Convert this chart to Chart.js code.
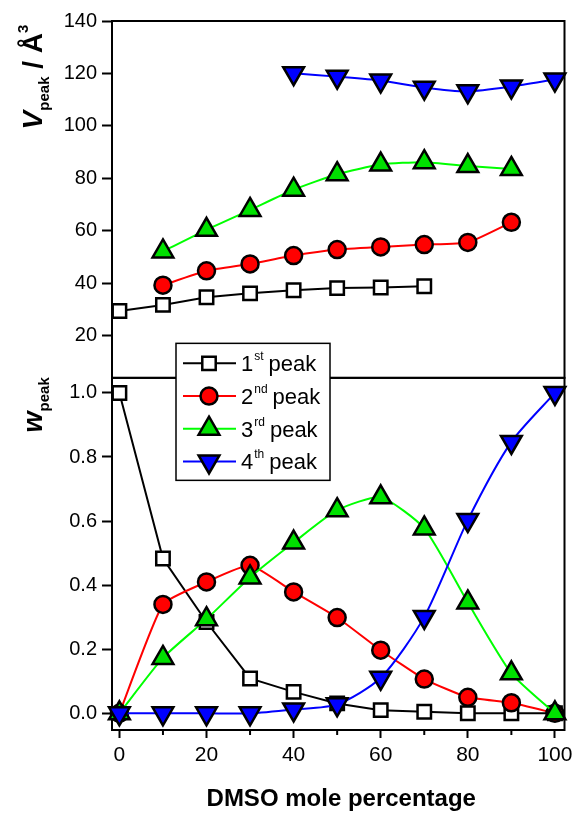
<!DOCTYPE html>
<html>
<head>
<meta charset="utf-8">
<script src="https://cdn.jsdelivr.net/npm/chart.js@4.4.0/dist/chart.umd.min.js"></script>
<style>
html, body { margin: 0; padding: 0; background: #fff; }
#wrap { width: 579px; height: 814px; }
</style>
</head>
<body>
<div id="wrap"><canvas id="peakChart" width="579" height="814"></canvas></div>
<script>
// DMSO mole percentage (x) for each series
const xAll = [0, 10, 20, 30, 40, 50, 60, 70, 80, 90, 100];
const xVol1 = [0, 10, 20, 30, 40, 50, 60, 70];
const xVol2 = [10, 20, 30, 40, 50, 60, 70, 80, 90];
const xVol3 = [10, 20, 30, 40, 50, 60, 70, 80, 90];
const xVol4 = [40, 50, 60, 70, 80, 90, 100];

// top panel: V_peak / A^3
const vol1 = [29.5, 31.8, 34.7, 36.2, 37.4, 38.2, 38.4, 38.9];
const vol2 = [39.3, 44.8, 47.4, 50.6, 52.9, 53.9, 54.8, 55.6, 63.3];
const vol3 = [52.2, 60.4, 68.0, 75.7, 81.6, 85.3, 86.2, 84.7, 83.6];
const vol4 = [120.1, 118.8, 117.3, 114.6, 113.2, 115.0, 117.7];

// bottom panel: w_peak
const w1 = [1.0, 0.483, 0.285, 0.109, 0.067, 0.031, 0.010, 0.005, 0, 0, 0];
const w2 = [0, 0.340, 0.410, 0.462, 0.379, 0.299, 0.197, 0.107, 0.050, 0.033, 0];
const w3 = [0, 0.173, 0.294, 0.424, 0.533, 0.634, 0.674, 0.577, 0.346, 0.125, 0];
const w4 = [0, 0, 0, 0, 0.012, 0.028, 0.111, 0.301, 0.603, 0.847, 1.0];

// ticks
const xTicks = [0, 20, 40, 60, 80, 100];
const xMinorTicks = [10, 30, 50, 70, 90];
const vTicks = [20, 40, 60, 80, 100, 120, 140];
const wTicks = [0, 0.2, 0.4, 0.6, 0.8, 1.0];

// legend text
const peakNums = ['1', '2', '3', '4'];
const peakSups = ['st', 'nd', 'rd', 'th'];

const FONT = "'Liberation Sans', Arial, sans-serif";

const peakStyles = [
    { line: '#000000', fill: '#ffffff', shape: 'rect', radius: 9.5, rotation: 0, tension: 0, order: 4 },
    { line: '#ff0000', fill: '#ff0000', shape: 'circle', radius: 8.5, rotation: 0, tension: 0.15, order: 3 },
    { line: '#00ff00', fill: '#00e000', shape: 'triangle', radius: 12, rotation: 0, tension: 0.2, order: 2 },
    { line: '#0000ff', fill: '#0000ff', shape: 'triangle', radius: 12, rotation: 180, tension: 0.25, order: 1 }
];

function makeSet(xs, ys, i, axisId) {
    const s = peakStyles[i];
    return {
        data: xs.map((x, k) => ({ x: x, y: ys[k] })),
        yAxisID: axisId,
        showLine: true,
        borderColor: s.line,
        borderWidth: 2,
        backgroundColor: s.fill,
        pointStyle: s.shape,
        pointRadius: s.radius,
        pointRotation: s.rotation,
        pointBackgroundColor: s.fill,
        pointBorderColor: '#000000',
        pointBorderWidth: 2.5,
        tension: s.tension,
        clip: false,
        order: s.order
    };
}

const datasets = [
    makeSet(xVol1, vol1, 0, 'yTop'),
    makeSet(xVol2, vol2, 1, 'yTop'),
    makeSet(xVol3, vol3, 2, 'yTop'),
    makeSet(xVol4, vol4, 3, 'yTop'),
    makeSet(xAll, w1, 0, 'yBot'),
    makeSet(xAll, w2, 1, 'yBot'),
    makeSet(xAll, w3, 2, 'yBot'),
    makeSet(xAll, w4, 3, 'yBot')
];

// draws a run of text pieces (with sub/superscripts) rotated for the y titles
function drawRun(ctx, parts, cx, cy) {
    ctx.save();
    ctx.translate(cx, cy);
    ctx.rotate(-Math.PI / 2);
    ctx.fillStyle = '#000';
    ctx.textBaseline = 'alphabetic';
    ctx.textAlign = 'left';
    let total = 0;
    parts.forEach(p => { ctx.font = p.font; total += ctx.measureText(p.text).width; });
    let x = -total / 2;
    parts.forEach(p => {
        ctx.font = p.font;
        ctx.fillText(p.text, x, p.dy);
        x += ctx.measureText(p.text).width;
    });
    ctx.restore();
}

const panelPlugin = {
    id: 'panelPlugin',
    beforeDatasetsDraw(chart) {
        const ctx = chart.ctx;
        const xs = chart.scales.x;
        const yt = chart.scales.yTop;
        const yb = chart.scales.yBot;
        ctx.save();
        ctx.strokeStyle = '#000';
        ctx.lineWidth = 2;
        ctx.strokeRect(xs.left, yt.top, xs.right - xs.left, yt.bottom - yt.top);
        ctx.strokeRect(xs.left, yb.top, xs.right - xs.left, yb.bottom - yb.top);
        // minor ticks on x
        xMinorTicks.forEach(v => {
            const px = xs.getPixelForValue(v);
            ctx.beginPath();
            ctx.moveTo(px, xs.top);
            ctx.lineTo(px, xs.top + 5);
            ctx.stroke();
        });
        ctx.restore();
    },
    afterDatasetsDraw(chart) {
        const ctx = chart.ctx;
        const area = chart.chartArea;
        const yt = chart.scales.yTop;

        // legend box
        const lx = area.left + 64;
        const ly = yt.bottom - 34.5;
        const lw = 154;
        const lh = 137;
        ctx.save();
        ctx.fillStyle = '#fff';
        ctx.fillRect(lx, ly, lw, lh);
        ctx.strokeStyle = '#000';
        ctx.lineWidth = 1.5;
        ctx.strokeRect(lx, ly, lw, lh);

        peakStyles.forEach((s, i) => {
            const ry = ly + 20 + i * 32.7;
            ctx.strokeStyle = s.line;
            ctx.lineWidth = 2;
            ctx.beginPath();
            ctx.moveTo(lx + 7, ry);
            ctx.lineTo(lx + 60, ry);
            ctx.stroke();

            ctx.fillStyle = s.fill;
            ctx.strokeStyle = '#000';
            ctx.lineWidth = 2.5;
            Chart.helpers.drawPoint(ctx, {
                pointStyle: s.shape,
                radius: s.radius,
                rotation: s.rotation,
                borderWidth: 2.5
            }, lx + 33, ry);

            ctx.fillStyle = '#000';
            ctx.textBaseline = 'alphabetic';
            ctx.textAlign = 'left';
            let tx = lx + 65;
            ctx.font = '22px ' + FONT;
            ctx.fillText(peakNums[i], tx, ry + 8);
            tx += ctx.measureText(peakNums[i]).width + 1;
            ctx.font = '12px ' + FONT;
            ctx.fillText(peakSups[i], tx, ry - 3);
            tx += ctx.measureText(peakSups[i]).width + 5;
            ctx.font = '22px ' + FONT;
            ctx.fillText('peak', tx, ry + 8);
        });
        ctx.restore();
    },
    afterDraw(chart) {
        const ctx = chart.ctx;
        const area = chart.chartArea;
        const yt = chart.scales.yTop;
        const yb = chart.scales.yBot;

        drawRun(ctx, [
            { text: 'V', font: 'italic bold 28px ' + FONT, dy: 0 },
            { text: 'peak', font: 'bold 15px ' + FONT, dy: 7 },
            { text: ' / Å', font: 'bold 28px ' + FONT, dy: 0 },
            { text: '3', font: 'bold 15px ' + FONT, dy: -14 }
        ], 41.7, yt.top + 56);

        drawRun(ctx, [
            { text: 'w', font: 'italic bold 27px ' + FONT, dy: 0 },
            { text: 'peak', font: 'bold 15px ' + FONT, dy: 7 }
        ], 41.7, yb.top + 27);

        ctx.save();
        ctx.fillStyle = '#000';
        ctx.font = 'bold 24px ' + FONT;
        ctx.textAlign = 'center';
        ctx.textBaseline = 'alphabetic';
        ctx.fillText('DMSO mole percentage', (area.left + area.right) / 2 + 3, 806);
        ctx.restore();
    }
};

const yFit = s => { s.width = 112; };

new Chart(document.getElementById('peakChart'), {
    type: 'scatter',
    data: { datasets: datasets },
    options: {
        responsive: false,
        animation: false,
        devicePixelRatio: 1,
        layout: { padding: { left: 0, right: 13, top: 21, bottom: 0 } },
        plugins: {
            legend: { display: false },
            tooltip: { enabled: false }
        },
        scales: {
            x: {
                type: 'linear',
                position: 'bottom',
                min: -1.7,
                max: 102.2,
                afterBuildTicks: axis => { axis.ticks = xTicks.map(v => ({ value: v })); },
                afterFit: s => { s.height = 84; },
                ticks: { color: '#000', font: { size: 21, family: FONT }, padding: 5 },
                grid: { drawOnChartArea: false, drawTicks: true, tickLength: 8, tickWidth: 2, tickColor: '#000' },
                border: { display: true, width: 2, color: '#000' }
            },
            yBot: {
                type: 'linear',
                position: 'left',
                stack: 'panels',
                stackWeight: 352.3,
                min: -0.052,
                max: 1.047,
                afterBuildTicks: axis => { axis.ticks = wTicks.map(v => ({ value: v })); },
                afterFit: yFit,
                ticks: { color: '#000', font: { size: 20, family: FONT }, padding: 5,
                    callback: v => v.toFixed(1) },
                grid: { drawOnChartArea: false, drawTicks: true, tickLength: 10, tickWidth: 2, tickColor: '#000' },
                border: { display: true, width: 2, color: '#000' }
            },
            yTop: {
                type: 'linear',
                position: 'left',
                stack: 'panels',
                stackWeight: 357,
                min: 4,
                max: 140,
                afterBuildTicks: axis => { axis.ticks = vTicks.map(v => ({ value: v })); },
                afterFit: yFit,
                ticks: { color: '#000', font: { size: 20, family: FONT }, padding: 5 },
                grid: { drawOnChartArea: false, drawTicks: true, tickLength: 10, tickWidth: 2, tickColor: '#000' },
                border: { display: true, width: 2, color: '#000' }
            }
        }
    },
    plugins: [panelPlugin]
});
</script>
</body>
</html>
